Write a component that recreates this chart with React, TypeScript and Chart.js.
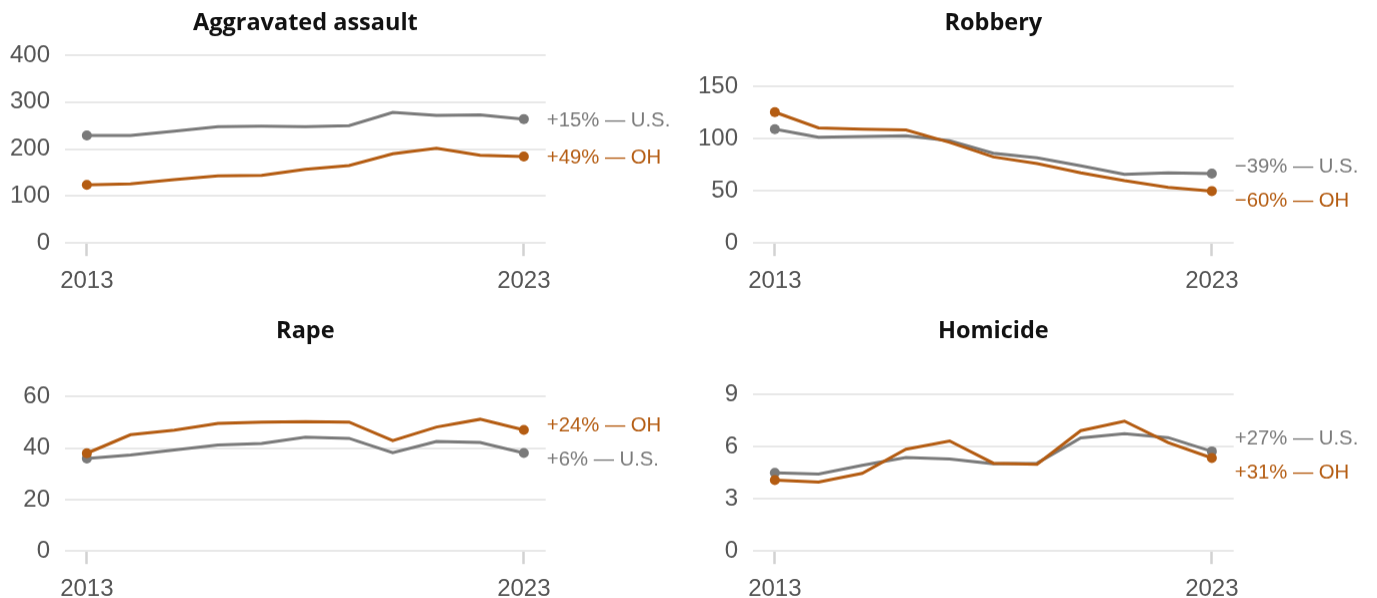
import React, { useEffect, useRef } from "react";
import { Chart, registerables } from "chart.js";

Chart.register(...registerables);

// ---------- data ----------
const years = [2013, 2014, 2015, 2016, 2017, 2018, 2019, 2020, 2021, 2022, 2023];
const xTickYears = [2013, 2023];

const assaultTitle = "Aggravated assault";
const assaultUS = [229, 229, 238, 248, 249, 248, 250, 278, 272, 273, 264];
const assaultOH = [124, 126, 135, 143, 144, 157, 165, 190, 202, 187, 184];
const assaultTicks = [0, 100, 200, 300, 400];
const assaultMax = 400;
const assaultUSLabel = "+15% — U.S.";
const assaultOHLabel = "+49% — OH";

const robberyTitle = "Robbery";
const robberyUS = [109.1, 101.3, 102.2, 102.8, 98.0, 86.1, 81.6, 73.9, 65.9, 67.2, 66.5];
const robberyOH = [125.4, 110.3, 109.0, 108.4, 96.5, 82.5, 76.1, 67.2, 59.8, 53.4, 49.8];
const robberyTicks = [0, 50, 100, 150];
const robberyMax = 180;
const robberyUSLabel = "−39% — U.S.";
const robberyOHLabel = "−60% — OH";

const rapeTitle = "Rape";
const rapeUS = [36.0, 37.3, 39.3, 41.2, 41.8, 44.2, 43.8, 38.2, 42.6, 42.2, 38.1];
const rapeOH = [38.0, 45.2, 47.0, 49.6, 50.1, 50.3, 50.1, 42.9, 48.2, 51.2, 47.1];
const rapeTicks = [0, 20, 40, 60];
const rapeMax = 73;
const rapeUSLabel = "+6% — U.S.";
const rapeOHLabel = "+24% — OH";

const homicideTitle = "Homicide";
const homicideUS = [4.5, 4.43, 4.93, 5.37, 5.29, 5.01, 5.05, 6.5, 6.75, 6.52, 5.73];
const homicideOH = [4.08, 3.97, 4.47, 5.85, 6.33, 5.05, 4.99, 6.92, 7.47, 6.23, 5.35];
const homicideTicks = [0, 3, 6, 9];
const homicideMax = 10.8;
const homicideUSLabel = "+27% — U.S.";
const homicideOHLabel = "+31% — OH";

// ---------- styles ----------
const US_COLOR = "#7a7a7a";
const OH_COLOR = "#b45c12";
const TICK_COLOR = "#545454";
const GRID_COLOR = "#e8e8e8";
const AXIS_FONT = "'Liberation Sans', Arial, sans-serif";
const TITLE_FONT = "'Open Sans', Roboto, sans-serif";

const PANEL_W = 688;
const PANEL_H = 306.6;

const endLabelPlugin = {
  id: "endLabels",
  afterDatasetsDraw(chart: any, _args: any, opts: any) {
    const ctx = chart.ctx;
    const items: { y: number; x: number; text: string; color: string }[] = [];
    chart.data.datasets.forEach((ds: any, i: number) => {
      const meta = chart.getDatasetMeta(i);
      const pt = meta.data[meta.data.length - 1];
      if (!pt) return;
      items.push({ x: pt.x + 23, y: pt.y, text: opts.labels[i], color: ds.borderColor });
    });
    if (items.length === 2) {
      const [a, b] = items[0].y <= items[1].y ? [items[0], items[1]] : [items[1], items[0]];
      const gap = 34;
      if (b.y - a.y < gap) {
        const mid = (a.y + b.y) / 2;
        a.y = mid - gap / 2;
        b.y = mid + gap / 2;
      }
    }
    ctx.save();
    ctx.font = `20.3px ${AXIS_FONT}`;
    ctx.textAlign = "left";
    ctx.textBaseline = "middle";
    items.forEach((it) => {
      ctx.fillStyle = it.color;
      ctx.fillText(it.text, it.x, it.y + 1.5);
    });
    ctx.restore();
  },
};

type PanelProps = {
  title: string;
  us: number[];
  oh: number[];
  ticks: number[];
  max: number;
  usLabel: string;
  ohLabel: string;
  left: number;
  top: number;
};

function Panel({ title, us, oh, ticks, max, usLabel, ohLabel, left, top }: PanelProps) {
  const ref = useRef<HTMLCanvasElement | null>(null);
  useEffect(() => {
    if (!ref.current) return;
    const last = years.length - 1;
    const radius = (c: any) => (c.dataIndex === 0 || c.dataIndex === last ? 5 : 0);
    const chart = new Chart(ref.current, {
      type: "line",
      data: {
        datasets: [
          {
            label: "OH",
            data: years.map((y, i) => ({ x: y, y: oh[i] })),
            borderColor: OH_COLOR,
            backgroundColor: OH_COLOR,
            pointBackgroundColor: OH_COLOR,
            borderWidth: 3,
            pointRadius: radius,
            pointBorderWidth: 0,
            tension: 0,
          },
          {
            label: "U.S.",
            data: years.map((y, i) => ({ x: y, y: us[i] })),
            borderColor: US_COLOR,
            backgroundColor: US_COLOR,
            pointBackgroundColor: US_COLOR,
            borderWidth: 3,
            pointRadius: radius,
            pointBorderWidth: 0,
            tension: 0,
          },
        ],
      },
      options: {
        responsive: false,
        animation: false,
        events: [],
        layout: { padding: { left: 0, right: 142.3, top: 0, bottom: 0 } },
        plugins: {
          legend: { display: false },
          tooltip: { enabled: false },
          title: {
            display: true,
            text: title,
            fullSize: false,
            color: "#111111",
            font: { family: TITLE_FONT, weight: "bold", size: 23.5, lineHeight: 1.2 },
            padding: { top: 9.2, bottom: 17.6 },
          },
          // @ts-ignore
          endLabels: { labels: [ohLabel, usLabel] },
        },
        scales: {
          x: {
            type: "linear",
            min: 2012.5,
            max: 2023.5,
            afterBuildTicks: (s: any) => {
              s.ticks = xTickYears.map((v) => ({ value: v }));
            },
            ticks: {
              callback: (v: any) => String(v),
              color: TICK_COLOR,
              font: { family: AXIS_FONT, size: 24, lineHeight: 1.2 },
              padding: 11,
              autoSkip: false,
              maxRotation: 0,
            },
            grid: {
              drawOnChartArea: false,
              drawTicks: true,
              tickLength: 13,
              tickColor: "#d2d2d2",
              tickWidth: 2.5,
            },
            border: { display: false },
          },
          y: {
            min: 0,
            max: max,
            afterBuildTicks: (s: any) => {
              s.ticks = ticks.map((v) => ({ value: v }));
            },
            afterFit: (s: any) => {
              s.width = 65;
            },
            ticks: {
              color: TICK_COLOR,
              font: { family: AXIS_FONT, size: 24, lineHeight: 1.2 },
              padding: 15,
              callback: (v: any) => String(v),
            },
            grid: { color: GRID_COLOR, lineWidth: 2, drawTicks: false },
            border: { display: false },
          },
        },
      } as any,
      plugins: [endLabelPlugin as any],
    });
    return () => chart.destroy();
  }, []);
  return (
    <canvas
      ref={ref}
      width={PANEL_W}
      height={PANEL_H}
      style={{ position: "absolute", left, top, width: PANEL_W, height: PANEL_H }}
    />
  );
}

export default function App() {
  return (
    <div
      style={{
        position: "absolute",
        left: 0,
        top: 0,
        width: 1377,
        height: 598,
        overflow: "hidden",
        background: "#ffffff",
      }}
    >
      <Panel title={assaultTitle} us={assaultUS} oh={assaultOH} ticks={assaultTicks} max={assaultMax} usLabel={assaultUSLabel} ohLabel={assaultOHLabel} left={0} top={0} />
      <Panel title={robberyTitle} us={robberyUS} oh={robberyOH} ticks={robberyTicks} max={robberyMax} usLabel={robberyUSLabel} ohLabel={robberyOHLabel} left={688.3} top={0} />
      <Panel title={rapeTitle} us={rapeUS} oh={rapeOH} ticks={rapeTicks} max={rapeMax} usLabel={rapeUSLabel} ohLabel={rapeOHLabel} left={0} top={308.3} />
      <Panel title={homicideTitle} us={homicideUS} oh={homicideOH} ticks={homicideTicks} max={homicideMax} usLabel={homicideUSLabel} ohLabel={homicideOHLabel} left={688.3} top={308.3} />
    </div>
  );
}
